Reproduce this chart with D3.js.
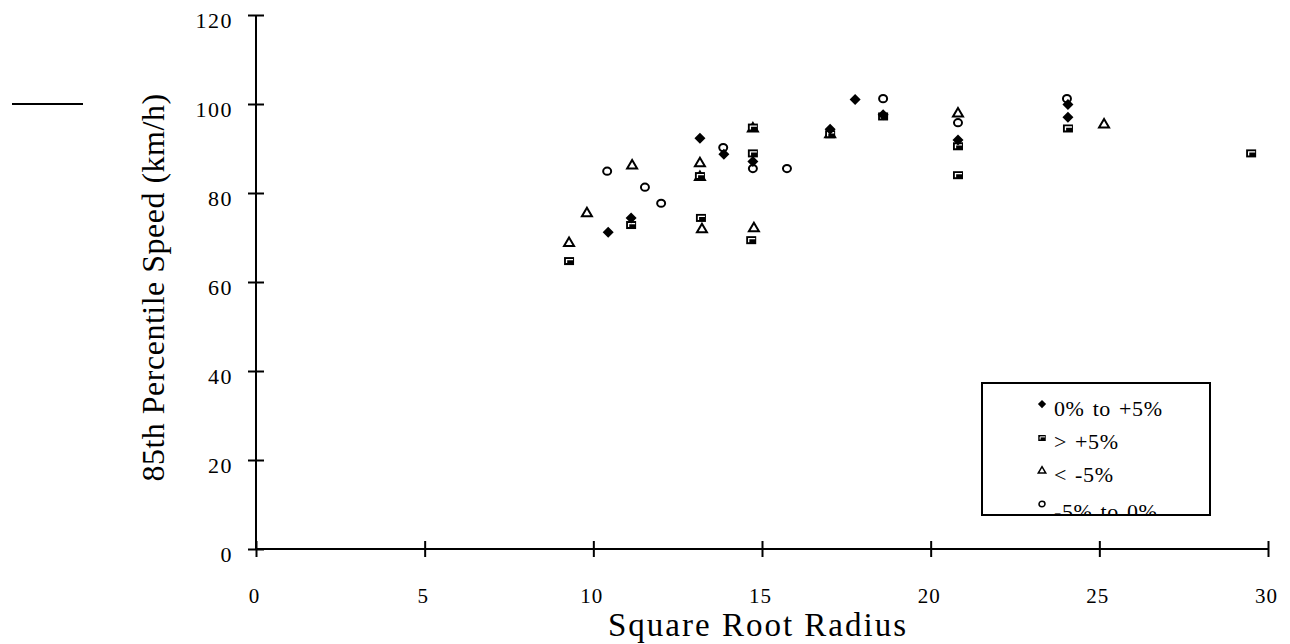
<!DOCTYPE html>
<html>
<head>
<meta charset="utf-8">
<script src="https://cdn.jsdelivr.net/npm/d3@7"></script>
<style>
  html, body { margin: 0; padding: 0; background: #fff; }
  svg { display: block; font-family: "Liberation Serif", "Times New Roman", serif; }
</style>
</head>
<body>
<svg id="chart" width="1290" height="644"></svg>
<script>
// Axis ticks
const xTicks = [0, 5, 10, 15, 20, 25, 30];
const yTicks = [0, 20, 40, 60, 80, 100, 120];

// Grade groups (legend order)
const seriesNames = ["0% to +5%", "> +5%", "< -5%", "-5% to 0%"];

// 0% to +5%
const flatX = [10.44, 11.12, 13.16, 13.87, 14.73, 17.02, 17.76, 18.59, 20.81, 24.07, 24.07];
const flatY = [71.2, 74.4, 92.3, 88.7, 87.1, 94.3, 101.0, 97.6, 91.9, 99.9, 97.0];

// > +5%
const upX = [9.28, 11.12, 13.19, 13.16, 14.68, 14.73, 14.73, 17.02, 18.59, 20.81, 20.81, 24.07, 29.50];
const upY = [64.7, 72.8, 74.4, 83.8, 69.4, 88.9, 94.7, 93.2, 97.2, 90.5, 84.0, 94.5, 88.9];

// < -5%
const downX = [9.28, 9.81, 11.15, 13.16, 13.16, 13.22, 14.73, 14.76, 17.02, 20.81, 25.14];
const downY = [69.0, 75.7, 86.4, 86.9, 83.8, 72.1, 94.7, 72.3, 93.4, 98.1, 95.6];

// -5% to 0%
const mildX = [10.41, 11.53, 12.01, 13.85, 14.73, 15.74, 18.59, 20.81, 24.04];
const mildY = [84.9, 81.3, 77.7, 90.2, 85.5, 85.5, 101.2, 95.8, 101.2];

const svg = d3.select("#chart");

const x = d3.scaleLinear().domain([0, 30]).range([256, 1268]);
const y = d3.scaleLinear().domain([0, 120]).range([549, 15]);

// Stray rule at the upper left
svg.append("line")
  .attr("x1", 12).attr("x2", 83).attr("y1", 104).attr("y2", 104)
  .attr("stroke", "#000").attr("stroke-width", 2);

// Y axis
const gy = svg.append("g")
  .attr("transform", `translate(${x(0)},0)`)
  .call(d3.axisLeft(y).tickValues(yTicks).tickSize(8).tickPadding(15).tickFormat(d3.format("d")));
gy.select(".domain").attr("stroke-width", 2).attr("d", `M0,${y(120)}V${y(0)}`);
gy.selectAll(".tick line").attr("x1", -8).attr("x2", 8).attr("stroke-width", 2);
gy.selectAll(".tick text")
  .attr("font-family", "Liberation Serif").attr("font-size", 22)
  .attr("letter-spacing", 1.5).attr("fill", "#000")
  .attr("y", 5);

// X axis
const gx = svg.append("g")
  .attr("transform", `translate(0,${y(0)})`)
  .call(d3.axisBottom(x).tickValues(xTicks).tickSize(8).tickFormat(d3.format("d")));
gx.select(".domain").attr("stroke-width", 2).attr("d", `M${x(0)},0H${x(30)}`);
gx.selectAll(".tick line").attr("y1", -8).attr("y2", 8).attr("stroke-width", 2);
gx.selectAll(".tick text")
  .attr("font-family", "Liberation Serif").attr("font-size", 21)
  .attr("letter-spacing", 1).attr("fill", "#000")
  .attr("y", 54).attr("dy", 0).attr("x", -2);

// Axis titles
svg.append("text")
  .attr("x", (x(0) + x(30)) / 2 - 4).attr("y", 636)
  .attr("text-anchor", "middle")
  .attr("font-size", 33).attr("letter-spacing", 2)
  .text("Square Root Radius");

svg.append("text")
  .attr("transform", `translate(164,${(95 + 480) / 2}) rotate(-90)`)
  .attr("text-anchor", "middle")
  .attr("font-size", 32).attr("letter-spacing", 0.5)
  .text("85th Percentile Speed (km/h)");

// Marker painters; s scales the glyph size
function diamond(g, s) {
  g.append("path")
    .attr("d", `M0,${-5.5 * s}L${5.5 * s},0L0,${5.5 * s}L${-5.5 * s},0Z`)
    .attr("fill", "#000");
}
function square(g, s) {
  g.append("rect")
    .attr("x", -5 * s).attr("y", -4 * s).attr("width", 10 * s).attr("height", 8 * s)
    .attr("fill", "#000");
  g.append("path")
    .attr("d", `M${-2.5 * s},${2 * s}V${-1.5 * s}H${4 * s}`)
    .attr("fill", "none").attr("stroke", "#fff").attr("stroke-width", 1.3 * s);
}
function triangle(g, s) {
  g.append("path")
    .attr("d", `M0,${-4.5 * s}L${5 * s},${4 * s}H${-5 * s}Z`)
    .attr("fill", "#fff").attr("stroke", "#000").attr("stroke-width", 2 * s)
    .attr("stroke-linejoin", "miter");
}
function ellipse(g, s) {
  g.append("ellipse")
    .attr("rx", 4 * s).attr("ry", 3.6 * s)
    .attr("fill", "#fff").attr("stroke", "#000").attr("stroke-width", 2 * s);
}

const series = [
  { name: seriesNames[0], xs: flatX, ys: flatY, draw: diamond },
  { name: seriesNames[1], xs: upX, ys: upY, draw: square },
  { name: seriesNames[2], xs: downX, ys: downY, draw: triangle },
  { name: seriesNames[3], xs: mildX, ys: mildY, draw: ellipse }
];

// Points: drawn last series first so filled marks sit on top of the open ones
const pts = svg.append("g");
[3, 2, 1, 0].forEach(i => {
  const s = series[i];
  s.xs.forEach((xv, j) => {
    const g = pts.append("g").attr("transform", `translate(${x(xv)},${y(s.ys[j])})`);
    s.draw(g, 1);
  });
});

// Legend (last entry runs past the frame and is cut by it)
const lx = 982, ly = 383, lw = 228, lh = 132;
svg.append("clipPath").attr("id", "legclip")
  .append("rect").attr("x", lx).attr("y", ly).attr("width", lw).attr("height", lh);
const leg = svg.append("g");
leg.append("rect")
  .attr("x", lx).attr("y", ly).attr("width", lw).attr("height", lh)
  .attr("fill", "#fff");
const legItems = leg.append("g").attr("clip-path", "url(#legclip)");
const markY = [404, 438, 470, 504];
const textY = [416, 449, 482, 519];
series.forEach((s, i) => {
  const g = legItems.append("g").attr("transform", `translate(1042,${markY[i]})`);
  s.draw(g, 0.75);
  legItems.append("text")
    .attr("x", 1054).attr("y", textY[i])
    .attr("font-size", 22).attr("letter-spacing", 0.6).attr("word-spacing", 2)
    .text(s.name);
});
leg.append("rect")
  .attr("x", lx).attr("y", ly).attr("width", lw).attr("height", lh)
  .attr("fill", "none").attr("stroke", "#000").attr("stroke-width", 2);
</script>
</body>
</html>
